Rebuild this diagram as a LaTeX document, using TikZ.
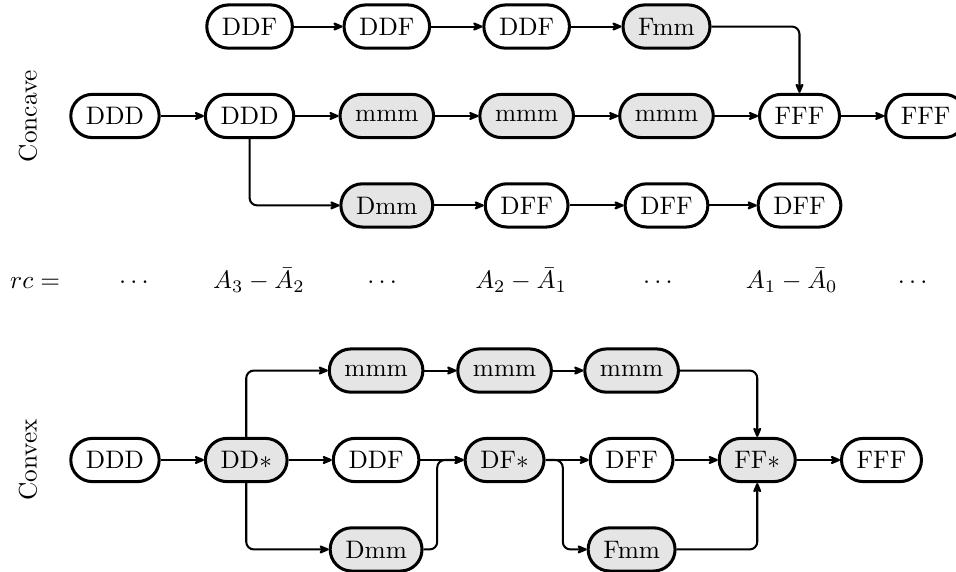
\documentclass[tikz,border=0pt]{standalone}
\usepackage{tikz}
\usetikzlibrary{arrows.meta, positioning}

\begin{document}
\begin{tikzpicture}[
    node distance=0.6cm,
    box/.style={draw, very thick, rounded corners=8.5pt, minimum height=0.6cm, inner xsep=6pt, align=center},
    mixbox/.style={box, fill=gray!20},
    arrow/.style={->, thick, >={Stealth[length=5pt, width=4.2pt, inset=1.6pt, round]}, rounded corners=3pt},
    rclabel/.style={anchor=base}
]
    \useasboundingbox (-1.597,1.611) rectangle (11.681,-6.333);

    % concave
    \node[rotate=90] (concave) at (-1.21,0) {Concave};
    \node[box] (caveDDD) {DDD};
    \node[box, right=of caveDDD] (caveDDDb) {DDD};
    \node[mixbox, right=of caveDDDb] (caveMmmA) {mmm};
    \node[mixbox, right=of caveMmmA] (caveMmmB) {mmm};
    \node[mixbox, right=of caveMmmB] (caveMmmC) {mmm};
    \node[box, right=of caveMmmC] (caveFFF) {FFF};
    \node[box, right=of caveFFF] (caveFFFb) {FFF};
    \node[box, above=of caveDDDb] (caveDDFa) {DDF};
    \node[box, above=of caveMmmA] (caveDDFb) {DDF};
    \node[box, above=of caveMmmB] (caveDDFc) {DDF};
    \node[mixbox, above=of caveMmmC] (caveFmm) {Fmm};
    \node[mixbox, below=of caveMmmA] (caveDmm) {Dmm};
    \node[box, below=of caveMmmB] (caveDFFa) {DFF};
    \node[box, below=of caveMmmC] (caveDFFb) {DFF};
    \node[box, below=of caveFFF] (caveDFFc) {DFF};

    \draw[arrow] (caveDDFa) -- (caveDDFb);
    \draw[arrow] (caveDDFb) -- (caveDDFc);
    \draw[arrow] (caveDDFc) -- (caveFmm);
    \draw[arrow] (caveFmm) -| (caveFFF);
    \draw[arrow] (caveDDD) -- (caveDDDb);
    \draw[arrow] (caveDDDb) -- (caveMmmA);
    \draw[arrow] (caveMmmA) -- (caveMmmB);
    \draw[arrow] (caveMmmB) -- (caveMmmC);
    \draw[arrow] (caveMmmC) -- (caveFFF);
    \draw[arrow] (caveFFF) -- (caveFFFb);
    \draw[arrow] (caveDDDb) |- (caveDmm);
    \draw[arrow] (caveDmm) -- (caveDFFa);
    \draw[arrow] (caveDFFa) -- (caveDFFb);
    \draw[arrow] (caveDFFb) -- (caveDFFc);

    % rc row
    \node[rclabel] (rc) at (-1.11,-2.40) {$rc =$};
    \node[rclabel] (rcDotsA) at (0.264,-2.40) {$\cdots$};
    \node[rclabel] (rcThree) at (2.0,-2.40) {$A_3 - \bar{A}_2$};
    \node[rclabel] (rcDotsB) at (3.71,-2.40) {$\cdots$};
    \node[rclabel] (rcTwo) at (5.64,-2.40) {$A_2 - \bar{A}_1$};
    \node[rclabel] (rcDotsC) at (7.54,-2.40) {$\cdots$};
    \node[rclabel] (rcOne) at (9.40,-2.40) {$A_1 - \bar{A}_0$};
    \node[rclabel] (rcDotsD) at (11.08,-2.40) {$\cdots$};

    % convex
    \node[rotate=90] (convex) at (-1.21,-4.778) {Convex};
    \node[box] (vexDDD) at (0,-4.778) {DDD};
    \node[mixbox, right=of vexDDD] (vexDDs) {DD$*$};
    \node[box, right=of vexDDs] (vexDDF) {DDF};
    \node[mixbox, right=of vexDDF] (vexDFs) {DF$*$};
    \node[box, right=of vexDFs] (vexDFF) {DFF};
    \node[mixbox, right=of vexDFF] (vexFFs) {FF$*$};
    \node[box, right=of vexFFs] (vexFFF) {FFF};
    \node[mixbox, above=of vexDDF] (vexMmmA) {mmm};
    \node[mixbox, above=of vexDFs] (vexMmmB) {mmm};
    \node[mixbox, above=of vexDFF] (vexMmmC) {mmm};
    \node[mixbox, below=of vexDDF] (vexDmm) {Dmm};
    \node[mixbox, below=of vexDFF] (vexFmm) {Fmm};

    \draw[arrow] (vexDDD) -- (vexDDs);
    \draw[arrow] (vexDDs) -- (vexDDF);
    \draw[arrow] (vexDDs) |- (vexMmmA);
    \draw[arrow] (vexDDs) |- (vexDmm);
    \draw[arrow] (vexMmmA) -- (vexMmmB);
    \draw[arrow] (vexMmmB) -- (vexMmmC);
    \draw[arrow] (vexMmmC) -| (vexFFs);
    \draw[arrow] (vexDDF) -- (vexDFs);
    \draw[arrow] (vexDmm.east) -- ++(0.19,0) |- (vexDFs.west);
    \draw[arrow] (vexDFs) -- (vexDFF);
    \draw[arrow] (vexDFs.east) -- ++(0.24,0) |- (vexFmm.west);
    \draw[arrow] (vexDFF) -- (vexFFs);
    \draw[arrow] (vexFmm) -| (vexFFs);
    \draw[arrow] (vexFFs) -- (vexFFF);
\end{tikzpicture}
\end{document}
